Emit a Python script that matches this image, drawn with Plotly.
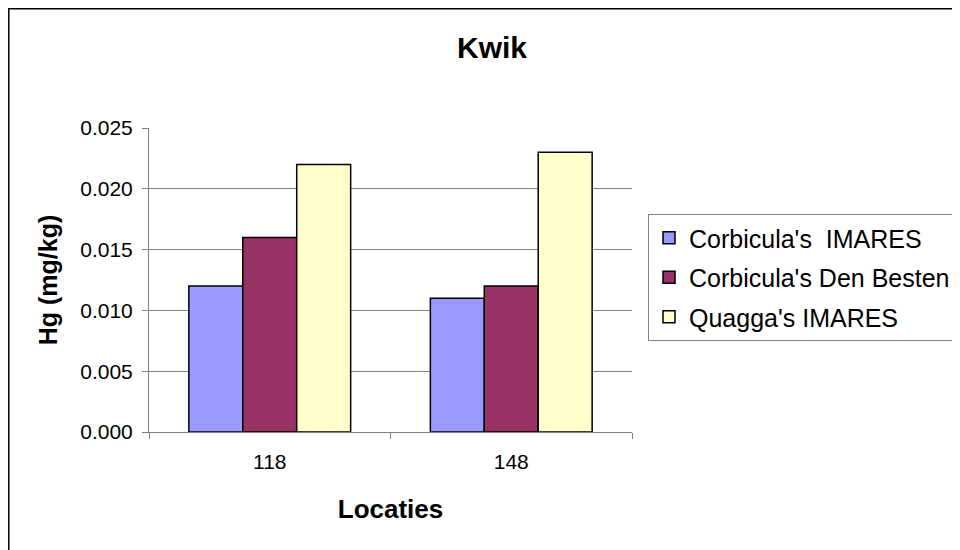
import plotly.graph_objects as go

categories = ["118", "148"]
series_names = ["Corbicula's  IMARES", "Corbicula's Den Besten", "Quagga's IMARES"]
corbicula_imares = [0.012, 0.011]
corbicula_den_besten = [0.016, 0.012]
quagga_imares = [0.022, 0.023]
colors = ["#9999FF", "#993366", "#FFFFCC"]
y_ticks = [0.0, 0.005, 0.010, 0.015, 0.020, 0.025]

# page body has an 8px margin; work in page pixels and convert
OFF = 8
W, H = 960, 550
PL, PR, PT, PB = 149, 632, 128, 432          # plot area in page pixels
L, T = PL - OFF, PT - OFF
R, B = W - (PR - OFF), H - (PB - OFF)
pw, ph = PR - PL, PB - PT

def px_x(px):
    return (px - PL) / pw

def px_y(py):
    return (PB - py) / ph

FONT = "Liberation Sans, Arial, sans-serif"

fig = go.Figure()
for i, (name, vals) in enumerate(zip(series_names, [corbicula_imares, corbicula_den_besten, quagga_imares])):
    fig.add_trace(go.Bar(
        x=categories, y=vals, name=name,
        marker=dict(color=colors[i], line=dict(color="black", width=1.5)),
        legendgroup=f"g{i}",
    ))

fig.update_layout(
    width=W, height=H,
    margin=dict(l=L, r=R, t=T, b=B, pad=0, autoexpand=False),
    paper_bgcolor="white", plot_bgcolor="white",
    barmode="group", bargap=0.33, bargroupgap=0,
    font=dict(family=FONT, color="black"),
    title=dict(text="<b>Kwik</b>", x=px_x(492), xref="paper", xanchor="center",
               y=1 - (47 - OFF) / H, yanchor="middle", font=dict(size=30, family=FONT)),
    showlegend=True,
    legend=dict(x=px_x(648), y=px_y(214), xanchor="left", yanchor="top",
                bordercolor="#808080", borderwidth=1, bgcolor="white",
                font=dict(size=25, family=FONT), traceorder="grouped",
                tracegroupgap=4, itemclick=False),
    xaxis=dict(
        type="category", tickson="boundaries", ticks="outside", ticklen=6,
        tickcolor="#808080", showline=True, linecolor="#808080", linewidth=1,
        showgrid=False, tickfont=dict(size=21, family=FONT), ticklabelstandoff=11,
        title=dict(text="<b>Locaties</b>", font=dict(size=26, family=FONT), standoff=27),
    ),
    yaxis=dict(
        range=[0, 0.025], tickvals=y_ticks, tickformat=".3f",
        ticks="outside", ticklen=6, tickcolor="#808080",
        showline=True, linecolor="#808080", linewidth=1,
        showgrid=True, gridcolor="#808080", gridwidth=1, zeroline=False,
        tickfont=dict(size=21, family=FONT), ticklabelstandoff=5,
        title=dict(text="<b>Hg (mg/kg)</b>", font=dict(size=25, family=FONT), standoff=15),
    ),
    shapes=[dict(type="rect", xref="paper", yref="paper",
                 x0=px_x(8.8), x1=px_x(975), y0=px_y(565), y1=px_y(8.8),
                 line=dict(color="black", width=1.5), fillcolor="rgba(0,0,0,0)", layer="below")],
)

fig.write_html("out.html", config={"displayModeBar": False})
